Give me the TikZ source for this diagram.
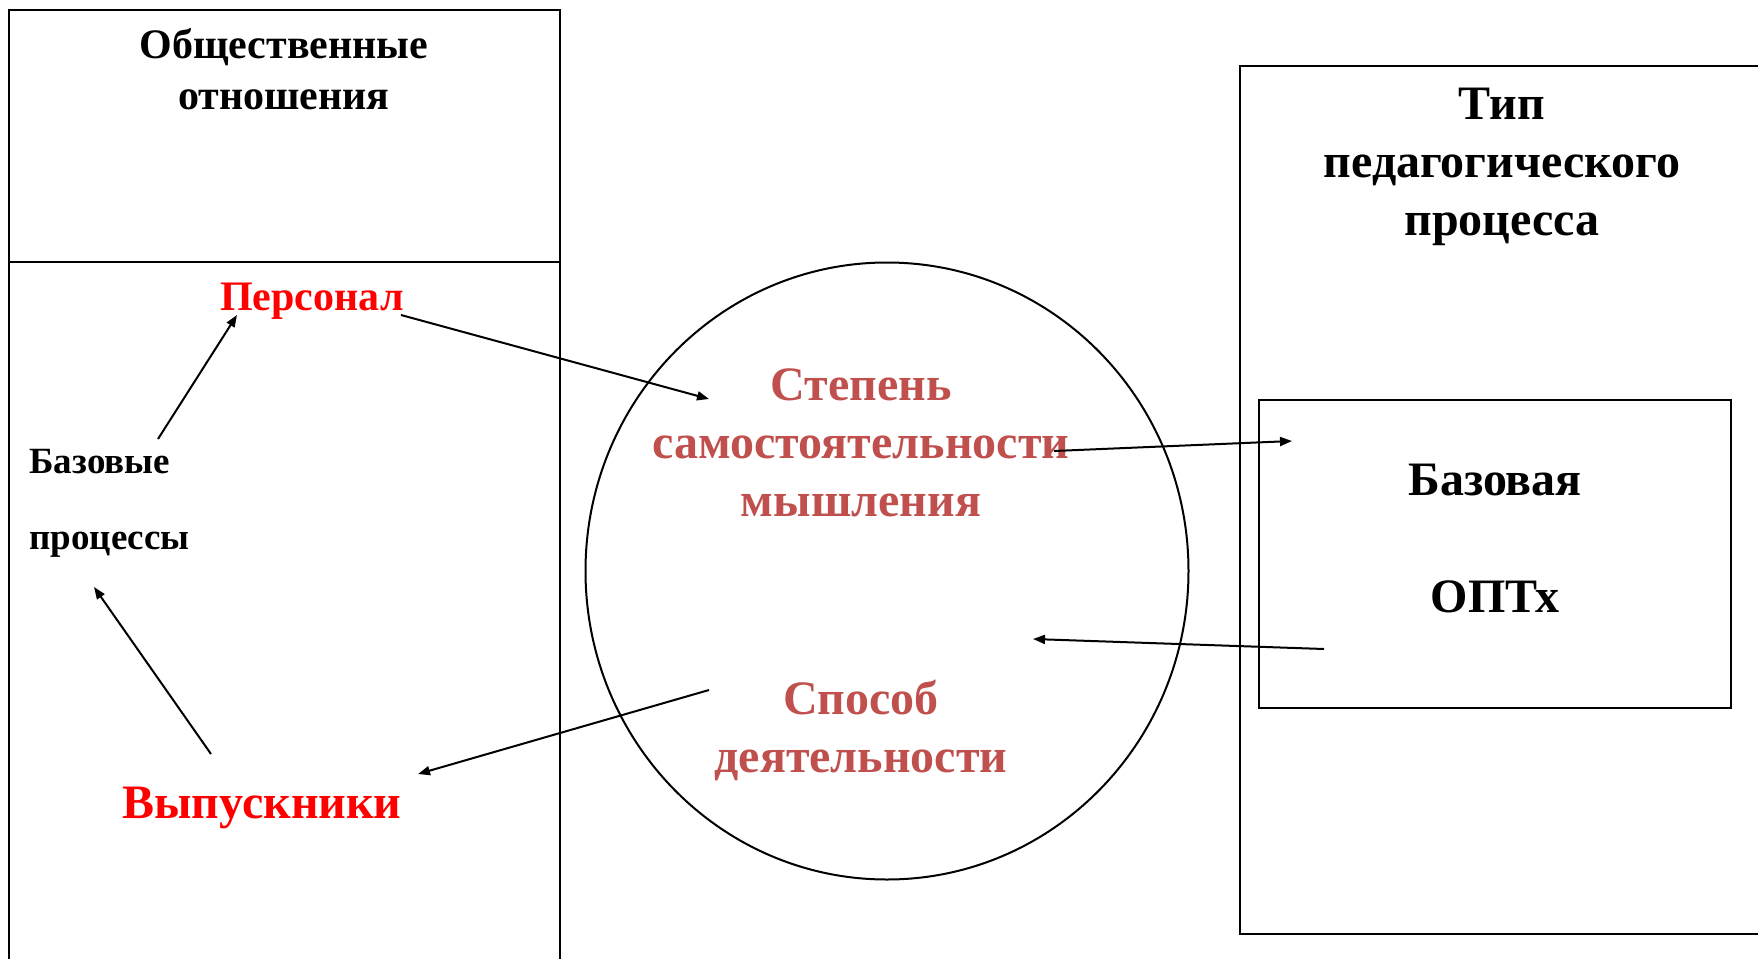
\documentclass[tikz,border=0pt]{standalone}
\usepackage{fontspec}
\setmainfont{Liberation Serif}
\usetikzlibrary{arrows.meta,shapes.geometric}
\definecolor{accent}{HTML}{C0504D}
\definecolor{hot}{HTML}{FF0000}
\begin{document}
\begin{tikzpicture}[x=0.5pt,y=-0.5pt,
  frame/.style={draw=black,line width=1pt},
  txt/.style={inner sep=0pt,anchor=base,align=center,font=\bfseries\fontsize{24}{29}\selectfont},
  conn/.style={line width=1pt,-{Triangle[length=6pt,width=4.5pt]}}
]
\useasboundingbox (0,0) rectangle (1758,959);
% left column
\draw[frame] (9,970) -- (9,10) -- (560,10) -- (560,970);
\draw[frame] (9,262) -- (560,262);
% right column
\draw[frame] (1770,66) -- (1240,66) -- (1240,934) -- (1770,934);
\node[frame,minimum width=236pt,minimum height=154pt,inner sep=0pt] (basebox) at (1495,554) {};
% circle
\node[frame,ellipse,minimum width=301.5pt,minimum height=308.5pt,inner sep=0pt] (circ) at (887,571) {};

% texts (anchor base = baseline of the last line)
\node[txt,font=\bfseries\fontsize{21}{25.5}\selectfont] (soc) at (284,109) {Общественные\\отношения};
\node[txt,font=\bfseries\fontsize{21}{25.5}\selectfont,text=hot] (pers) at (312,310) {Персонал};
\node[txt,anchor=base west,align=left,font=\bfseries\fontsize{18.5}{38}\selectfont] (basic) at (29,549) {Базовые\\процессы};
\node[txt,text=hot] (grad) at (262,818) {Выпускники};
\node[txt] (type) at (1502,235) {Тип\\педагогического\\процесса};
\node[txt,font=\bfseries\fontsize{24}{58.5}\selectfont] (base) at (1495,612) {Базовая\\ОПТх};
\node[txt,text=accent] (degree) at (861,516) {Степень\\самостоятельности\\мышления};
\node[txt,text=accent] (mode) at (861,772) {Способ\\деятельности};

% connector ends
\coordinate (basic-out) at (158,439);
\coordinate (pers-in) at (237,315);
\coordinate (pers-out) at (401,315);
\coordinate (degree-in) at (709,399);
\coordinate (degree-out) at (1054,451);
\coordinate (base-in) at (1292,441);
\coordinate (base-out) at (1324,649);
\coordinate (circ-in) at (1033,639);
\coordinate (mode-out) at (709,690);
\coordinate (grad-in) at (418,774);
\coordinate (grad-out) at (211,754);
\coordinate (basic-in) at (94,587);

\draw[conn] (basic-out) -- (pers-in);
\draw[conn] (pers-out) -- (degree-in);
\draw[conn] (degree-out) -- (base-in);
\draw[conn] (base-out) -- (circ-in);
\draw[conn] (mode-out) -- (grad-in);
\draw[conn] (grad-out) -- (basic-in);
\end{tikzpicture}
\end{document}
